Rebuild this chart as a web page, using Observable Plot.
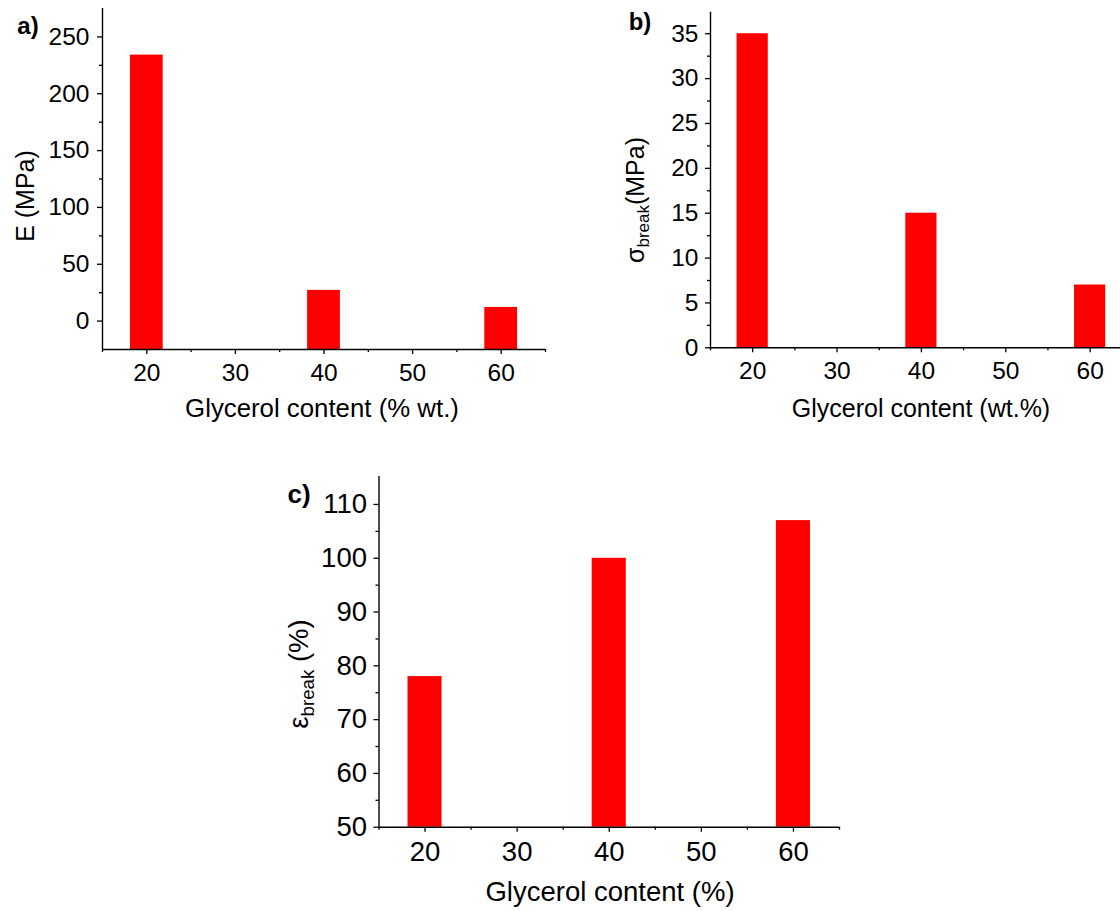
<!DOCTYPE html>
<html><head><meta charset="utf-8">
<script src="https://cdn.jsdelivr.net/npm/d3@7"></script>
<script src="https://cdn.jsdelivr.net/npm/@observablehq/plot@0.6"></script>
<style>
html,body{margin:0;padding:0;background:#fff;overflow:hidden}
#fig{position:relative;width:1120px;height:911px;background:#fff}
#fig svg{position:absolute}
</style></head><body><div id="fig"></div>
<script>
// ---- data ----
const glycerol = [20, 40, 60];
const modulusE = [234, 27, 12];          // a) E (MPa)
const stressBreak = [35, 15, 7];         // b) sigma_break (MPa)
const strainBreak = [78, 100, 107];      // c) epsilon_break (%)
const xTicks = [20, 30, 40, 50, 60];
const xMinor = [15, 25, 35, 45, 55, 65];
const aTicks = [0, 50, 100, 150, 200, 250];
const aMinor = [25, 75, 125, 175, 225];
const bTicks = [0, 5, 10, 15, 20, 25, 30, 35];
const bMinor = [2.5, 7.5, 12.5, 17.5, 22.5, 27.5, 32.5];
const cTicks = [50, 60, 70, 80, 90, 100, 110];
const cMinor = [55, 65, 75, 85, 95, 105];
const xLabels = ["Glycerol content (% wt.)", "Glycerol content (wt.%)", "Glycerol content (%)"];
const panelLetters = ["a)", "b)", "c)"];

const FONT = "'Liberation Sans', Arial, Helvetica, sans-serif";
const barHalf = 1.85;

function panel(cfg) {
  const data = glycerol.map((g, i) => ({g, v: cfg.values[i]}));
  const [x0, x1] = cfg.xDomain, [y0, y1] = cfg.yDomain;
  const inX = t => t >= x0 && t <= x1;
  const svg = Plot.plot({
    width: cfg.width, height: cfg.height,
    marginLeft: cfg.ml, marginRight: cfg.mr, marginTop: cfg.mt, marginBottom: cfg.mb,
    x: {domain: cfg.xDomain, label: null},
    y: {domain: cfg.yDomain, label: null},
    style: {fontFamily: FONT, fontSize: cfg.fs + "px", color: "#000", background: "transparent", overflow: "visible"},
    marks: [
      Plot.rectY(data, {x1: d => d.g - barHalf, x2: d => d.g + barHalf, y1: d => y0, y2: "v", fill: "#ff0000"}),
      Plot.axisX({ticks: xMinor.filter(inX), tickSize: 3, strokeWidth: 1.3, tickFormat: () => "", label: null}),
      Plot.axisX({ticks: xTicks, tickSize: 5, strokeWidth: 1.3, tickPadding: cfg.xPad, fontSize: cfg.fs, tickFormat: d => String(d), label: null}),
      Plot.axisY({ticks: cfg.yMinor, tickSize: 3, strokeWidth: 1.3, tickFormat: () => "", label: null}),
      Plot.axisY({ticks: cfg.yTicks, tickSize: 5, strokeWidth: 1.3, tickPadding: cfg.yPad, fontSize: cfg.fs, tickFormat: d => String(d), label: null}),
      Plot.ruleX([x0], {stroke: "#000", strokeWidth: 1.4}),
      Plot.ruleY([y0], {stroke: "#000", strokeWidth: 1.4})
    ]
  });
  svg.style.left = cfg.left + "px";
  svg.style.top = cfg.top + "px";
  const s = d3.select(svg);
  // panel letter
  s.append("text").attr("x", cfg.letter[0]).attr("y", cfg.letter[1])
    .attr("font-family", FONT).attr("font-weight", "bold").attr("font-size", cfg.letterFs)
    .attr("fill", "#000").text(cfg.letterText);
  // x title
  s.append("text").attr("x", cfg.xTitle[0]).attr("y", cfg.xTitle[1])
    .attr("text-anchor", "middle").attr("font-family", FONT).attr("font-size", cfg.xTitleFs)
    .attr("fill", "#000").text(cfg.xTitleText);
  // y title (rotated, with optional subscript)
  const yt = s.append("text")
    .attr("transform", `translate(${cfg.yTitle[0]},${cfg.yTitle[1]}) rotate(-90)`)
    .attr("text-anchor", "middle").attr("dy", "0.35em")
    .attr("font-family", FONT).attr("font-size", cfg.titleFs).attr("fill", "#000");
  cfg.yParts.forEach(p => {
    const t = yt.append("tspan").text(p.t);
    if (p.sub) t.attr("font-size", "0.68em").attr("dy", "0.32em");
    if (p.after) t.attr("dy", "-0.22em");
  });
  document.getElementById("fig").appendChild(svg);
}

panel({
  left: 0, top: 0, width: 560, height: 430, ml: 102, mr: 15, mt: 8, mb: 81,
  xDomain: [15, 65], yDomain: [-25, 275], values: modulusE,
  yTicks: aTicks, yMinor: aMinor, fs: 24.5, titleFs: 25, xTitleFs: 25.8, xPad: 9, yPad: 8,
  letter: [28, 34], letterFs: 24, letterText: panelLetters[0],
  xTitle: [322, 417], xTitleText: xLabels[0],
  yTitle: [25, 196], yParts: [{t: "E (MPa)"}]
});

panel({
  left: 560, top: 0, width: 560, height: 430, ml: 150, mr: 0, mt: 11.7, mb: 82.7,
  xDomain: [15, 63.6], yDomain: [0, 37.4], values: stressBreak,
  yTicks: bTicks, yMinor: bMinor, fs: 24.5, titleFs: 25, xTitleFs: 25, xPad: 9, yPad: 7,
  letter: [80, 30], letterFs: 24, letterText: panelLetters[1],
  xTitle: [361, 417], xTitleText: xLabels[1],
  yTitle: [75, 200], yParts: [{t: "σ"}, {t: "break", sub: true}, {t: "(MPa)", after: true}]
});

panel({
  left: 270, top: 470, width: 580, height: 441, ml: 108.5, mr: 11, mt: 6, mb: 84.3,
  xDomain: [15, 65], yDomain: [50, 115.2], values: strainBreak,
  yTicks: cTicks, yMinor: cMinor, fs: 27.5, titleFs: 27.5, xTitleFs: 27.5, xPad: 9.5, yPad: 7,
  letter: [29, 33], letterFs: 26, letterText: panelLetters[2],
  xTitle: [340, 431], xTitleText: xLabels[2],
  yTitle: [28, 204], yParts: [{t: "ε"}, {t: "break", sub: true}, {t: " (%)", after: true}]
});
</script></body></html>
